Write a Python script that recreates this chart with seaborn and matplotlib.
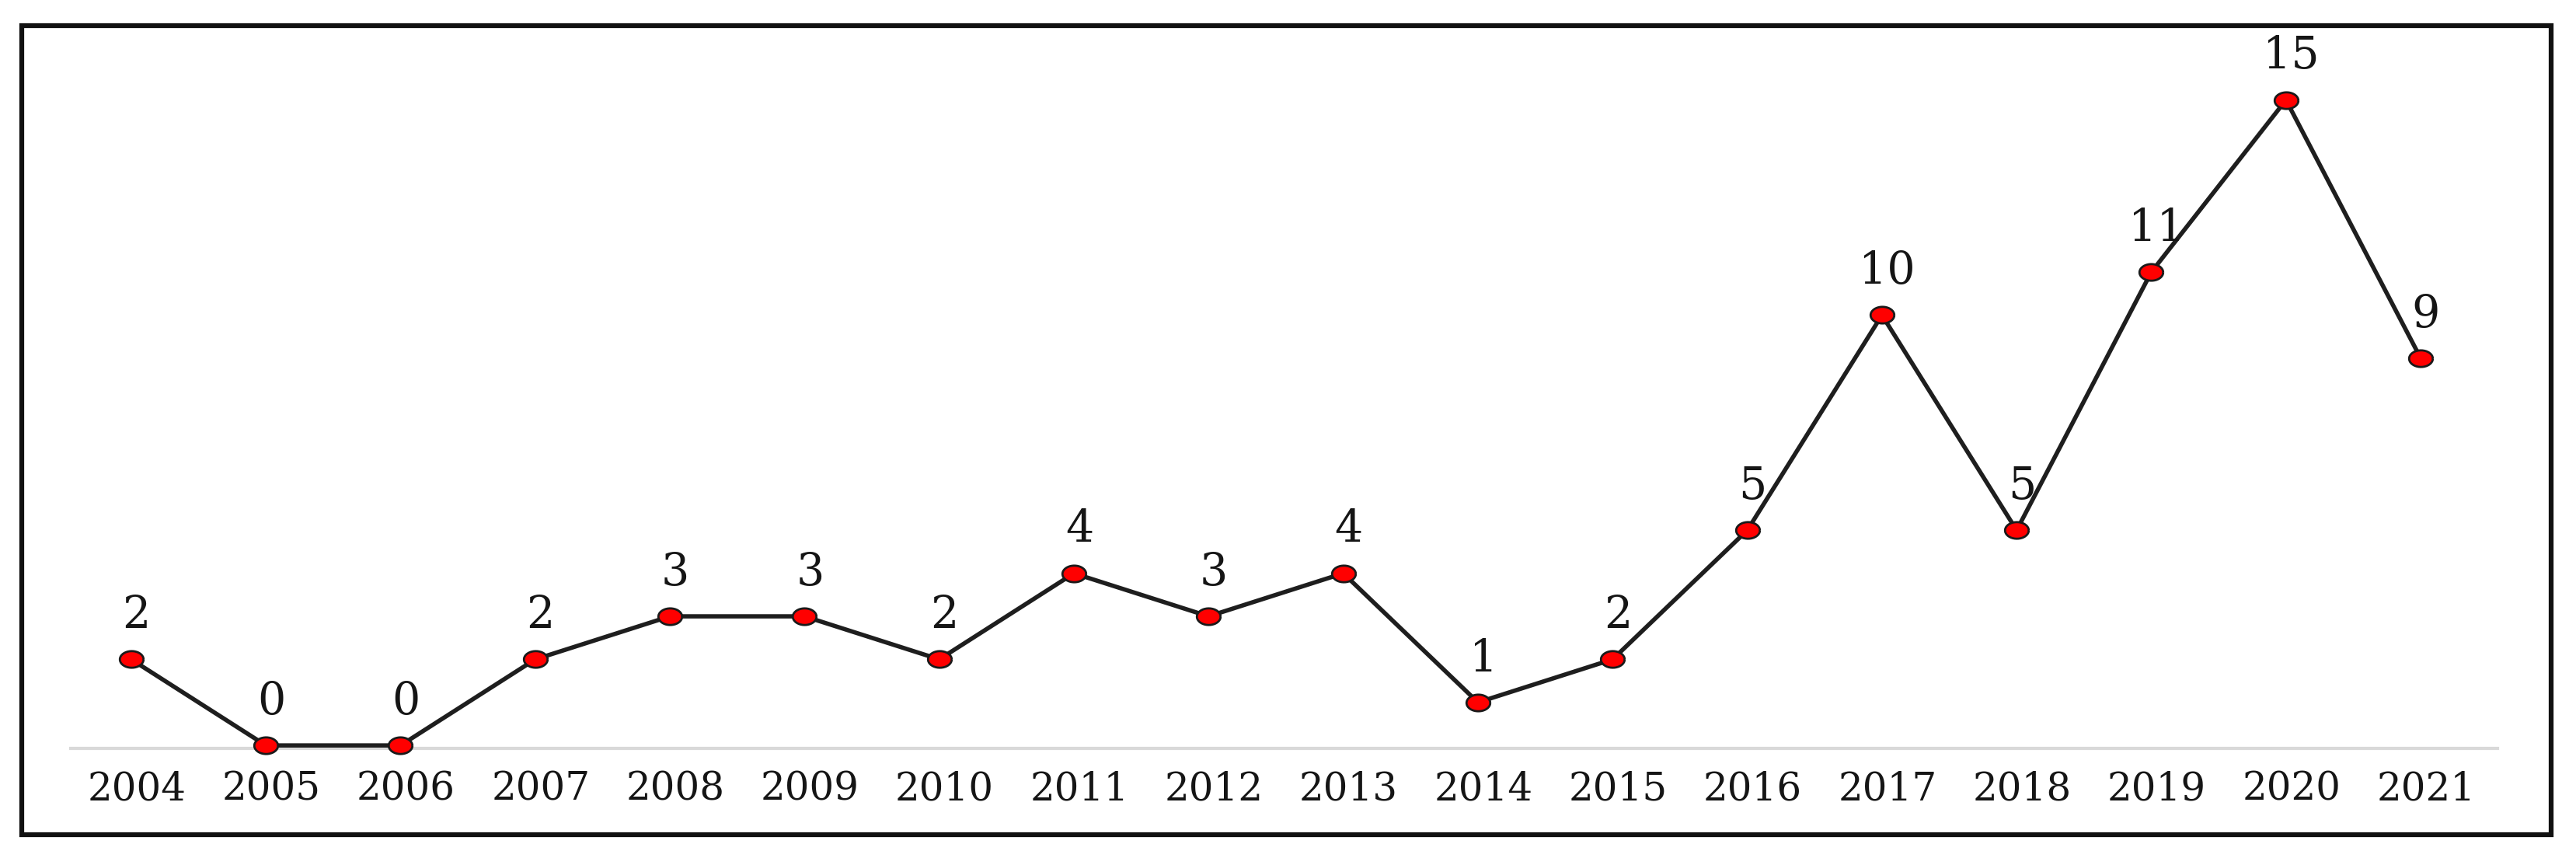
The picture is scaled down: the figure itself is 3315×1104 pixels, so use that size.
import numpy as np
import pandas as pd
import matplotlib
matplotlib.use("Agg")
import matplotlib.pyplot as plt
from matplotlib.patches import Rectangle
from matplotlib.transforms import ScaledTranslation
import seaborn as sns

years = ["2004", "2005", "2006", "2007", "2008", "2009", "2010", "2011", "2012",
         "2013", "2014", "2015", "2016", "2017", "2018", "2019", "2020", "2021"]
counts = [2, 0, 0, 2, 3, 3, 2, 4, 3, 4, 1, 2, 5, 10, 5, 11, 15, 9]

df = pd.DataFrame({"year": years, "count": counts})
df["pos"] = np.arange(len(years))

sns.set_theme(style="white")
plt.rcParams["font.family"] = ["DejaVu Serif"]

fig = plt.figure(figsize=(33.16, 11.04), dpi=100)
ax = fig.add_axes([0.0274, 0.1277, 0.9418, 0.836])

# elliptical marker (wider than tall)
t = np.linspace(0, 2 * np.pi, 40)
ell = list(zip(np.cos(t), 0.70 * np.sin(t)))

sns.lineplot(data=df, x="pos", y="count", ax=ax, color="#1e1e1e", linewidth=4.0,
             marker=ell, markersize=22, markerfacecolor="#ff0000",
             markeredgecolor="#1a1a1a", markeredgewidth=2.0, zorder=3,
             clip_on=False)

for xi, v in zip(df["pos"], df["count"]):
    ax.annotate(str(v), (xi, v), xytext=(5, 29), textcoords="offset points",
                ha="center", va="baseline", fontsize=41, color="#151515")

ax.set_xlim(-0.45, 17.57)
ax.set_ylim(-0.07, 16.6)
ax.set_xticks(df["pos"])
ax.set_xticklabels(years)
ax.set_yticks([])
ax.set_xlabel("")
ax.set_ylabel("")
ax.tick_params(axis="x", length=0, pad=20, labelsize=36, labelcolor="#151515")
shift = ScaledTranslation(5 / 72, 0, fig.dpi_scale_trans)
for lab in ax.get_xticklabels():
    lab.set_transform(lab.get_transform() + shift)
for s in ["top", "right", "left"]:
    ax.spines[s].set_visible(False)
ax.spines["bottom"].set_color("#d9d9d9")
ax.spines["bottom"].set_linewidth(3)
ax.spines["bottom"].set_zorder(1)

W, H = 3316, 1104
fig.patches.append(Rectangle((28 / W, 1 - 1074 / H), (3283 - 28) / W, (1074 - 33) / H,
                             transform=fig.transFigure, fill=False,
                             edgecolor="#111111", linewidth=4.5, zorder=10))

fig.savefig("out.png", dpi=100, facecolor="white")
